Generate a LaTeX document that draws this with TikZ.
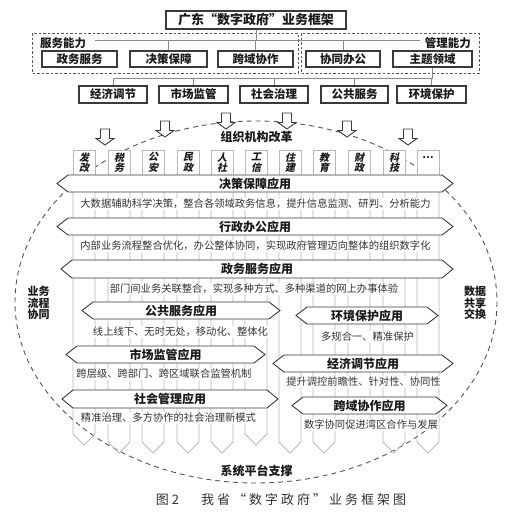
\documentclass[tikz,border=0pt]{standalone}
\usepackage{fontspec}
\setmainfont{Noto Sans CJK SC}
\newfontfamily\cjkit{Noto Sans CJK SC}[FakeSlant=0.22]
\newfontfamily\song{Noto Sans CJK SC}
\definecolor{ink}{HTML}{1A1A1A}
\definecolor{boxc}{HTML}{3A3A3A}
\definecolor{colc}{HTML}{B8B8B8}
\definecolor{dashc}{HTML}{555555}
\definecolor{txt}{HTML}{333333}
\definecolor{connc}{HTML}{8A8A8A}
\newcommand{\hexbar}[6]{%
  \draw[barshape] (#1,{(#3+#4)/2}) -- (#1+11,#3) -- (#2-11,#3) -- (#2,{(#3+#4)/2}) -- (#2-11,#4) -- (#1+11,#4) -- cycle;
  \node[barlab] (#5) at ({(#1+#2)/2},{(#3+#4)/2}) {#6};}
\newcommand{\blockarrow}[2]{%
  \draw[arrowshape] (#1-4.5,#2) -- (#1+4.5,#2) -- (#1+4.5,#2+9.5) -- (#1+9,#2+9.5) -- (#1,#2+16) -- (#1-9,#2+9.5) -- (#1-4.5,#2+9.5) -- cycle;}
\newcommand{\capgap}{\hspace{3pt}}
\begin{document}
\begin{tikzpicture}[x=1pt,y=-1pt,
  topbox/.style={draw=boxc, line width=1.1pt, fill=white, inner sep=0pt, minimum height=16pt, text=ink,
    font=\bfseries\fontsize{11.5}{12}\selectfont},
  grplab/.style={inner sep=0pt, text=ink, font=\bfseries\fontsize{11.5}{12}\selectfont},
  conn/.style={draw=connc, line width=0.8pt},
  dbox/.style={draw=dashc, line width=0.9pt, dash pattern=on 2.5pt off 2pt},
  colline/.style={draw=colc, line width=0.8pt},
  collab/.style={inner sep=0pt, align=center, text=ink, font=\cjkit\bfseries\fontsize{10}{10.5}\selectfont},
  barshape/.style={draw=boxc, line width=0.9pt, fill=white},
  barlab/.style={inner sep=0pt, text=ink, font=\bfseries\fontsize{12}{12}\selectfont},
  desc/.style={fill=white, inner xsep=1pt, inner ysep=1.5pt, text=txt, font=\fontsize{10.3}{11}\selectfont},
  arrowshape/.style={draw=boxc, line width=0.9pt, fill=white, line join=miter},
  bigdash/.style={draw=dashc, line width=0.9pt, dash pattern=on 5pt off 4pt},
  sidelab/.style={inner sep=0pt, align=left, text=ink, font=\bfseries\fontsize{11}{11.3}\selectfont},
  midlab/.style={inner sep=0pt, text=ink, font=\bfseries\fontsize{12}{12}\selectfont}]
\useasboundingbox (0,0) rectangle (511,520);
\fill[white] (0,0) rectangle (511,520);

% ---------- top tree ----------
\node[topbox, minimum width=180pt, minimum height=18pt, font=\bfseries\fontsize{13}{13}\selectfont] (t) at (256,20) {广东“数字政府”业务框架};
\draw[dbox] (32,33) rectangle (298,73);
\draw[dbox] (301,33) rectangle (479,73);
\node[grplab, anchor=west] (fwnl) at (40,43) {服务能力};
\node[grplab, anchor=east] (glnl) at (471,43) {管理能力};
\node[topbox, minimum width=75pt] (zw) at (79.5,59) {政务服务};
\node[topbox, minimum width=77pt] (jc) at (168.5,59) {决策保障};
\node[topbox, minimum width=75pt] (ky) at (255.5,59) {跨域协作};
\node[topbox, minimum width=74pt] (xt) at (343,59) {协同办公};
\node[topbox, minimum width=79pt] (zt) at (432.5,59) {主题领域};
\coordinate (b1L) at (95,40);
\coordinate (b1R) at (420,40);
\draw[conn] (b1L) -- (b1R);
\draw[conn] (t.south) -- (t.south |- b1L);
\foreach \n in {jc,ky,xt} \draw[conn] (\n.north) -- (\n.north |- b1L);

\node[topbox, minimum width=68pt, minimum height=17pt] (jj) at (113,94.5) {经济调节};
\node[topbox, minimum width=69pt, minimum height=17pt] (sc) at (193.5,94.5) {市场监管};
\node[topbox, minimum width=68pt, minimum height=17pt] (sh) at (274,94.5) {社会治理};
\node[topbox, minimum width=67pt, minimum height=17pt] (gg) at (354.5,94.5) {公共服务};
\node[topbox, minimum width=69pt, minimum height=17pt] (hj) at (431.5,94.5) {环境保护};
\coordinate (b2L) at (113,78);
\draw[conn] (zt.south) -- (zt.south |- b2L) -- (b2L);
\foreach \n in {jj,sc,sh,gg,hj} \draw[conn] (\n.north |- b2L) -- (\n.north);

% ---------- big dashed ellipse ----------
\draw[bigdash] (256,302) ellipse [x radius=241, y radius=181];

% ---------- columns ----------
\foreach \x/\tp in {73/445,108/453,142/453,177/453,211/453,245/445,279/453,313/453,348/430,383/453,417/453}{
  \draw[colline] (\x,175) -- (\x,\tp-11) -- (\x+11,\tp) -- (\x+22,\tp-11) -- (\x+22,175);
  \draw[colline, fill=white] (\x,150) rectangle (\x+22,175);
}
\foreach \x/\a/\b/\n in {73/发/改/c0,108/税/务/c1,142/公/安/c2,177/民/政/c3,211/人/社/c4,245/工/信/c5,279/住/建/c6,313/教/育/c7,348/财/政/c8,383/科/技/c9}{
  \node[collab] (\n) at (\x+11,162.5) {\a\\\b};
}
\node[collab, font=\bfseries\fontsize{10}{10.5}\selectfont] (c10) at (428,158) {…};

% ---------- bars ----------
\hexbar{57}{453}{175}{192}{jcyy}{决策保障应用}
\hexbar{57}{453}{218}{235}{xzyy}{行政办公应用}
\hexbar{61}{453}{260}{278}{zwyy}{政务服务应用}
\hexbar{82}{280}{302}{319}{ggyy}{公共服务应用}
\hexbar{66}{265}{346}{363}{scyy}{市场监管应用}
\hexbar{62}{278}{390}{408}{shyy}{社会管理应用}
\hexbar{296}{438}{307}{324}{hjyy}{环境保护应用}
\hexbar{273}{453}{355}{372}{jjyy}{经济调节应用}
\hexbar{292}{447}{397}{414}{kyyy}{跨域协作应用}

% ---------- descriptions ----------
\node[desc] (d1) at (255.5,204) {大数据辅助科学决策，整合各领域政务信息，提升信息监测、研判、分析能力};
\node[desc] (d2) at (255.5,246) {内部业务流程整合优化，办公整体协同，实现政府管理迈向整体的组织数字化};
\node[desc] (d3) at (254,289) {部门间业务关联整合，实现多种方式、多种渠道的网上办事体验};
\node[desc] (d4) at (180.5,332) {线上线下、无时无处，移动化、整体化};
\node[desc] (d5) at (164,374) {跨层级、跨部门、跨区域联合监管机制};
\node[desc] (d6) at (168.5,418) {精准治理、多方协作的社会治理新模式};
\node[desc] (d7) at (367.5,337) {多规合一、精准保护};
\node[desc] (d8) at (363.5,382) {提升调控前瞻性、针对性、协同性};
\node[desc] (d9) at (371,425) {数字协同促进湾区合作与发展};

% ---------- arrows ----------
\blockarrow{105}{129}
\blockarrow{165}{121}
\blockarrow{226}{113}
\blockarrow{287}{113}
\blockarrow{347}{121}
\blockarrow{408}{129}

% ---------- labels ----------
\node[midlab] (zzjg) at (256.5,137) {组织机构改革};
\node[midlab] (xtpt) at (256.5,471) {系统平台支撑};
\node[sidelab] (ywlc) at (38.5,303) {业务\\流程\\协同};
\node[sidelab] (sjgx) at (475,303) {数据\\共享\\交换};

% ---------- caption ----------
\node[inner sep=0pt, text=txt, font=\song\fontsize{13}{13}\selectfont] (cap) at (281,500)
  {图\capgap 2\hspace{22pt}我\capgap 省\capgap “\capgap 数\capgap 字\capgap 政\capgap 府\capgap ”\capgap 业\capgap 务\capgap 框\capgap 架\capgap 图};
\end{tikzpicture}
\end{document}
